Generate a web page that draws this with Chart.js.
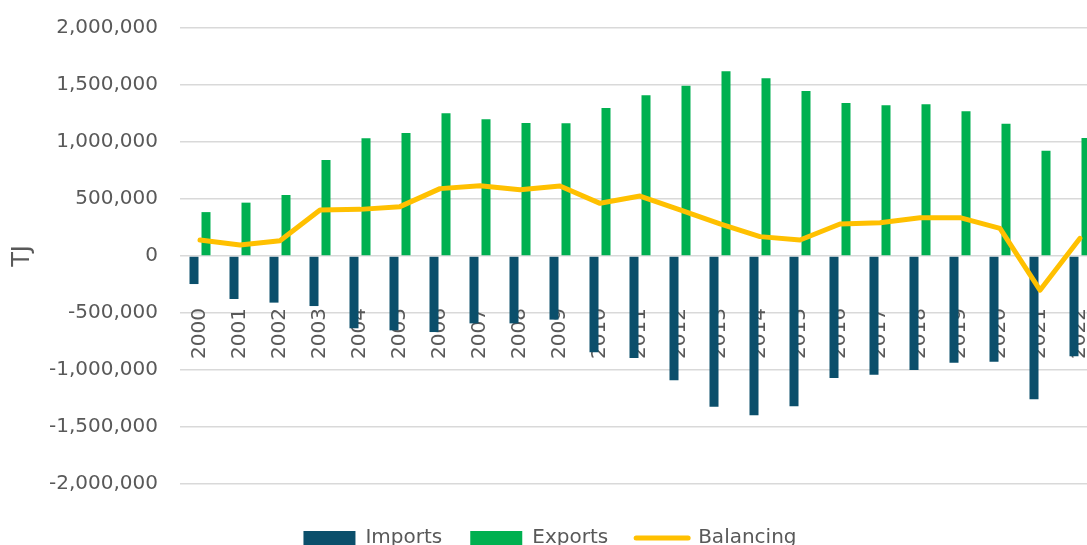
<!DOCTYPE html>
<html>
<head>
<meta charset="utf-8">
<title>Imports, exports and balancing</title>
<script src="https://cdn.jsdelivr.net/npm/chart.js@4.4.1/dist/chart.umd.min.js"></script>
<style>
  html, body { margin: 0; padding: 0; overflow: hidden; background: #ffffff; }
  #wrap { width: 1130px; height: 558px; }
</style>
</head>
<body>
<div id="wrap"><canvas id="tradeChart"></canvas></div>
<script>
// ## TRADE BALANCE CHART (TJ) ##

const years = [
  "2000", "2001", "2002", "2003", "2004", "2005", "2006", "2007",
  "2008", "2009", "2010", "2011", "2012", "2013", "2014", "2015",
  "2016", "2017", "2018", "2019", "2020", "2021", "2022",
];

const imports = [
  -246000, -377000, -409000, -439000, -634000, -652000, -667000, -591000,
  -591000, -558000, -845000, -895000, -1091000, -1322000, -1398000, -1319000,
  -1070000, -1041000, -1000000, -936000, -927000, -1257000, -880000,
];

const exports = [
  385000, 468000, 535000, 842000, 1032000, 1079000, 1252000, 1199000,
  1167000, 1164000, 1298000, 1410000, 1494000, 1620000, 1559000, 1447000,
  1342000, 1322000, 1331000, 1269000, 1161000, 924000, 1035000,
];

const balancing = [
  140000, 96000, 134000, 403000, 409000, 433000, 591000, 617000,
  582000, 614000, 462000, 526000, 404000, 281000, 170000, 140000,
  281000, 292000, 336000, 336000, 243000, -300000, 155000,
];

const yMin = -2000000;
const yMax = 2000000;
const yStep = 500000;

const textColor = "#595959";
Chart.defaults.font.family = "'DejaVu Sans', sans-serif";
Chart.defaults.color = textColor;

function createTradeChart() {
  const ctx = document.getElementById("tradeChart").getContext("2d");

  window.tradeChart = new Chart(ctx, {
    type: "bar",
    data: {
      labels: years,
      datasets: [
        {
          label: "Imports",
          data: imports,
          backgroundColor: "#0B4F6B",
          categoryPercentage: 0.6,
          barPercentage: 0.75,
          order: 1,
        },
        {
          label: "Exports",
          data: exports,
          backgroundColor: "#00B050",
          categoryPercentage: 0.6,
          barPercentage: 0.75,
          order: 1,
        },
        {
          type: "line",
          label: "Balancing",
          data: balancing,
          borderColor: "#FFC000",
          backgroundColor: "#FFC000",
          borderWidth: 5,
          borderCapStyle: "round",
          borderJoinStyle: "round",
          pointRadius: 0,
          tension: 0,
          fill: false,
          order: 0,
        },
      ],
    },
    options: {
      responsive: true,
      maintainAspectRatio: false,
      animation: false,
      layout: {
        padding: { top: 28, right: 30, bottom: 0, left: 0 },
      },
      plugins: {
        tooltip: { enabled: false },
        legend: {
          position: "bottom",
          title: {
            display: true,
            text: "",
            font: { size: 16, lineHeight: 1 },
            padding: 0,
          },
          labels: {
            font: { size: 20 },
            color: textColor,
            usePointStyle: true,
            pointStyleWidth: 52,
            boxHeight: 14,
            padding: 28,
            sort: (a, b) => a.datasetIndex - b.datasetIndex,
            generateLabels: (chart) => {
              const items = Chart.defaults.plugins.legend.labels.generateLabels(chart);
              return items.map((item) => {
                if (item.datasetIndex === 2) {
                  item.pointStyle = "line";
                  item.strokeStyle = "#FFC000";
                  item.lineWidth = 5;
                  item.lineCap = "round";
                } else {
                  item.pointStyle = "rect";
                  item.lineWidth = 0;
                }
                return item;
              });
            },
          },
        },
      },
      scales: {
        x: {
          position: { y: 0 },
          afterFit: (scale) => {
            scale.paddingLeft = 0;
            scale.paddingRight = 0;
          },
          ticks: {
            autoSkip: false,
            minRotation: 90,
            maxRotation: 90,
            padding: 52,
            font: { size: 20 },
            color: textColor,
          },
          grid: {
            display: false,
            drawTicks: false,
          },
          border: {
            display: false,
          },
        },
        y: {
          min: yMin,
          max: yMax,
          afterFit: (scale) => {
            scale.width = 180;
            scale.paddingTop = 0;
            scale.paddingBottom = 0;
          },
          title: {
            display: true,
            text: "TJ",
            font: { size: 24 },
            color: textColor,
            padding: { top: 8, bottom: 0 },
          },
          ticks: {
            stepSize: yStep,
            padding: 22,
            font: { size: 20 },
            color: textColor,
            callback: (value) => value.toLocaleString("en-US"),
          },
          grid: {
            color: "#D9D9D9",
            lineWidth: 1.5,
            drawTicks: false,
          },
          border: {
            display: false,
          },
        },
      },
    },
  });
}

createTradeChart();
</script>
</body>
</html>
